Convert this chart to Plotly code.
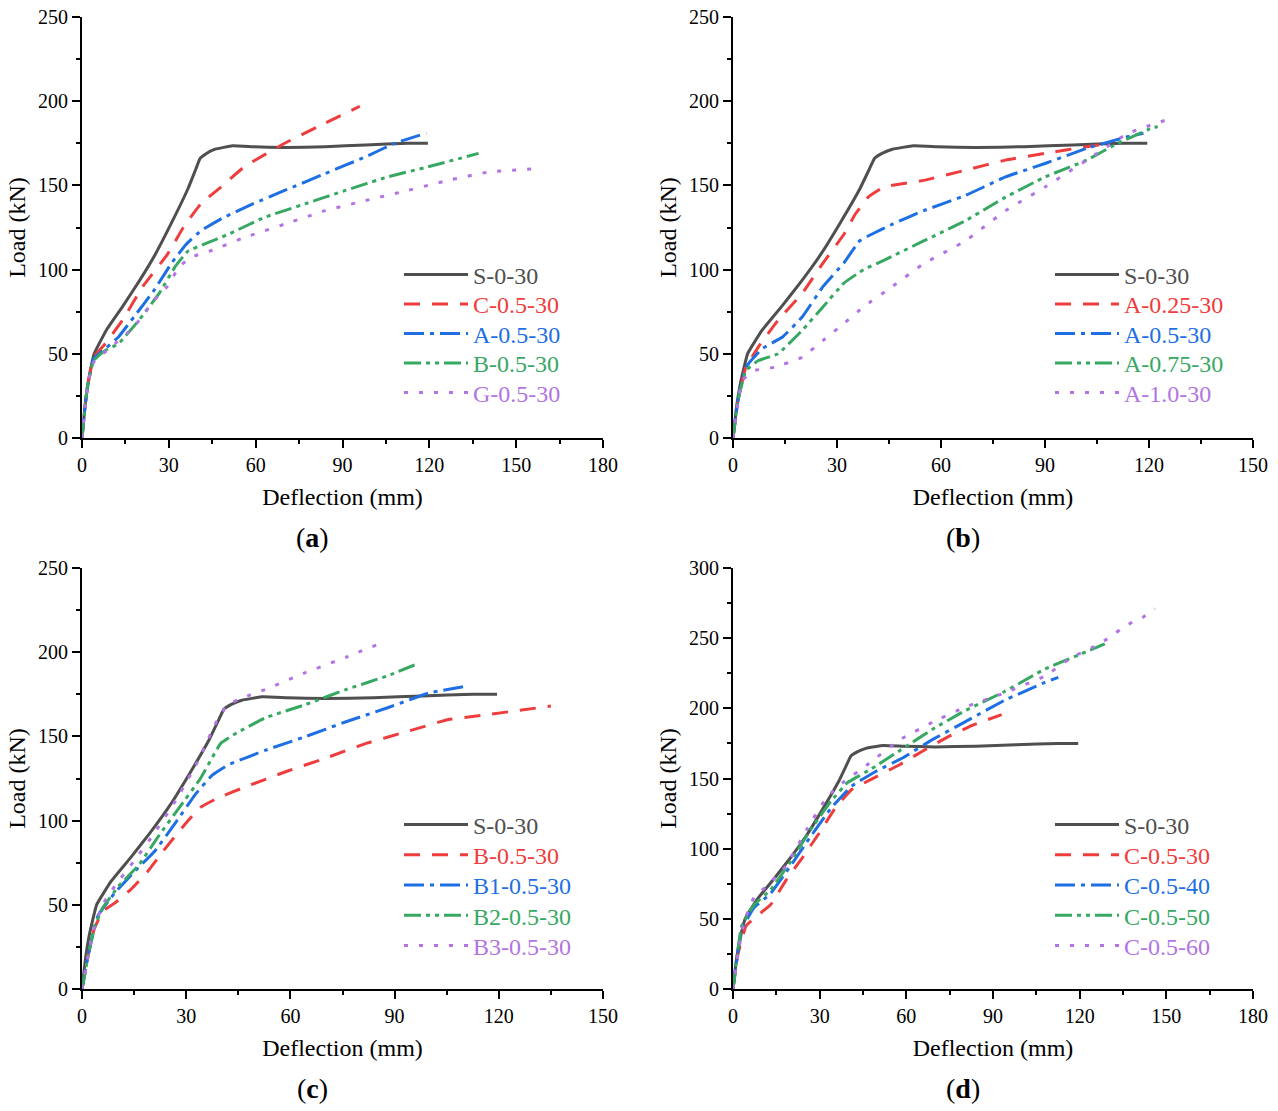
import plotly.graph_objects as go

# ---------------- data ----------------
S_x = [0, 1, 2.1, 4.2, 8.4, 14, 19.7, 25.3, 31, 36.6, 39.4, 40.8, 43, 46, 52, 59, 70, 84, 98, 112.5, 119.5]
S_y = [0, 18, 32, 50, 64, 78, 93, 109, 128, 148, 160, 166, 169, 171.5, 173.5, 173, 172.5, 173, 174, 175, 175]

# panel (a)
a_C_x = [0, 1, 2, 4, 8, 14, 21, 29.5, 35, 41, 48, 56, 70, 84, 96]
a_C_y = [0, 18, 32, 48, 56, 70, 90, 109, 125, 139, 149, 161, 175, 187, 197]
a_A_x = [0, 1, 2, 4, 8, 12.6, 18, 25, 31, 36, 41, 49, 59, 70, 84, 98, 108, 119]
a_A_y = [0, 18, 32, 47, 53, 60, 72, 88, 104, 115, 123, 131, 139, 147, 157, 167, 175, 181]
a_B_x = [0, 1, 2, 4, 8, 12.6, 19.7, 26.7, 32.3, 36.6, 42, 50.6, 63, 77, 91, 105.5, 119.5, 137]
a_B_y = [0, 18, 32, 46, 52, 56, 70, 86, 102, 111, 115, 121, 131, 139, 147, 155, 161, 169]
a_G_x = [0, 1, 2, 4, 10, 18, 25, 29.5, 33.7, 38, 45, 56, 70, 84, 98, 112.5, 126.5, 140.6, 158]
a_G_y = [0, 18, 32, 45, 54, 66, 82, 90, 102, 107.5, 111.5, 119, 127, 135, 141, 147, 153, 158, 160]

# panel (b)
b_1_x = [0, 1.4, 3.7, 7.3, 13, 20, 26, 32, 35.3, 39, 43.5, 55, 67, 78.6, 90, 102, 109]
b_1_y = [0, 22, 42, 54, 70, 86, 104, 121, 133, 143, 149, 153, 159, 165, 169, 173, 175]
b_2_x = [0, 1.4, 3.7, 8.4, 14.3, 20, 26, 32, 36.5, 40, 46, 55, 67, 78.6, 90, 102, 114, 118.4]
b_2_y = [0, 22, 42, 53, 60, 72, 90, 104, 117, 121, 127, 135, 144, 155, 163, 172, 179, 181]
b_3_x = [0, 1.4, 3.7, 7.3, 13, 20, 26, 32, 37.7, 43.5, 55, 67, 78.6, 90, 102, 111, 119.6, 122.5]
b_3_y = [0, 22, 40, 46, 50, 64, 78, 92, 100, 105.5, 117, 129, 143, 155, 165, 175, 183, 185]
b_4_x = [0, 1.4, 2.6, 6, 12, 20, 26, 32, 37.7, 46, 55, 67, 78.6, 90, 102, 114, 126.6]
b_4_y = [0, 20, 34, 40, 42, 48, 58, 68, 78, 90, 103.5, 117, 135, 149, 165, 181, 190]

# panel (c)
c_1_x = [0, 1.8, 3.5, 5.9, 9.4, 14, 18.8, 23.4, 29.3, 34, 38.7, 47, 58.6, 70, 82, 93.8, 105.5, 117, 135]
c_1_y = [0, 20.6, 35.5, 46, 51, 59, 69.5, 82, 97, 107.7, 113, 120, 129, 137, 146, 153, 160, 163, 168]
c_2_x = [0, 1.8, 3.5, 4.7, 9.4, 15, 21, 27, 32.8, 37.5, 42, 52.7, 64.5, 76, 88, 99.6, 111]
c_2_y = [0, 20, 36, 44, 57, 69.5, 82, 99, 116, 127, 133, 141.7, 150, 158.7, 167, 175.6, 180]
c_3_x = [0, 1.8, 3.5, 5.9, 10.5, 16.4, 22, 28, 34, 40, 44.5, 52.7, 64.5, 76, 88, 96]
c_3_y = [0, 20, 36, 48, 61, 73.7, 90.7, 107.7, 124.7, 146, 152, 161, 169, 177.8, 186, 192.6]
c_4_x = [0, 1.8, 3.5, 5.9, 9.4, 15, 21, 27, 32.8, 38.7, 42, 47, 52.7, 64.5, 76, 85.6]
c_4_y = [0, 20, 36, 50, 61, 76, 93, 112, 133, 158.7, 169, 173.5, 177.8, 188, 197, 205]

# panel (d)
d_1_x = [0, 1.7, 4.5, 8.7, 13, 18.5, 24, 29.8, 35.4, 41, 48, 57.8, 66, 74.7, 83, 93]
d_1_y = [0, 24.7, 45, 52.8, 60, 78, 93.5, 111, 129, 142, 149.6, 160, 170, 180, 188, 195.5]
d_2_x = [0, 1.5, 3, 7.3, 13, 20, 27, 34, 41, 49.4, 59, 69, 80, 94, 108, 112.6]
d_2_y = [0, 24, 42.6, 58, 68, 88, 109, 129, 144.5, 155, 165, 177.7, 190, 205.7, 218.5, 222]
d_3_x = [0, 1.5, 3, 7.3, 13, 20, 27, 34, 39.6, 48, 57.8, 69, 80, 94, 108, 119.6, 128.7]
d_3_y = [0, 25, 45, 60, 70.6, 91, 114, 134, 147, 157, 170, 185, 198, 212, 228, 238, 246]
d_4_x = [0, 1.7, 3.8, 7.3, 11.5, 18.5, 25.6, 32.6, 38, 46.6, 57.8, 69, 80, 94, 108, 117, 125, 130, 136, 142, 146]
d_4_y = [0, 24.7, 47.7, 65.5, 73, 88, 114, 137, 147, 160, 177.7, 190, 200.6, 211, 223, 236, 244, 250, 259, 265, 271]

names_a = ["S-0-30", "C-0.5-30", "A-0.5-30", "B-0.5-30", "G-0.5-30"]
names_b = ["S-0-30", "A-0.25-30", "A-0.5-30", "A-0.75-30", "A-1.0-30"]
names_c = ["S-0-30", "B-0.5-30", "B1-0.5-30", "B2-0.5-30", "B3-0.5-30"]
names_d = ["S-0-30", "C-0.5-30", "C-0.5-40", "C-0.5-50", "C-0.5-60"]
panel_labels = ["a", "b", "c", "d"]

# ---------------- styles ----------------
colors = ["#4f4f4f", "#ef3d3d", "#1d6fe3", "#37a862", "#b274e4"]
dashes = ["solid", "16px,12px", "20px,6px,4px,6px", "17px,5px,4px,5px,4px,5px", "4px,11px"]
FONT = "Liberation Serif"

W, H = 1278, 1111
def px(v): return v / W
def py(v): return (H - v) / H

panels = [
    dict(series=[(S_x, S_y), (a_C_x, a_C_y), (a_A_x, a_A_y), (a_B_x, a_B_y), (a_G_x, a_G_y)],
         names=names_a, xr=180, yr=250, xd=(82, 603), yd=(438, 17), leg=(399, 275, 29.5)),
    dict(series=[(S_x, S_y), (b_1_x, b_1_y), (b_2_x, b_2_y), (b_3_x, b_3_y), (b_4_x, b_4_y)],
         names=names_b, xr=150, yr=250, xd=(733, 1253), yd=(438, 17), leg=(1050, 275, 29.5)),
    dict(series=[(S_x, S_y), (c_1_x, c_1_y), (c_2_x, c_2_y), (c_3_x, c_3_y), (c_4_x, c_4_y)],
         names=names_c, xr=150, yr=250, xd=(82, 603), yd=(989, 568), leg=(399, 825, 30.2)),
    dict(series=[(S_x, S_y), (d_1_x, d_1_y), (d_2_x, d_2_y), (d_3_x, d_3_y), (d_4_x, d_4_y)],
         names=names_d, xr=180, yr=300, xd=(733, 1253), yd=(989, 568), leg=(1050, 825, 30.2)),
]

fig = go.Figure()
layout = dict(width=W, height=H, margin=dict(l=0, r=0, t=0, b=0), showlegend=True,
              plot_bgcolor="white", paper_bgcolor="white",
              font=dict(family=FONT, color="black"), annotations=[])

legn = 0
for i, p in enumerate(panels):
    k = "" if i == 0 else str(i + 1)
    lx, ly0, lstep = p["leg"]
    for j, ((xs, ys), nm) in enumerate(zip(p["series"], p["names"])):
        legn += 1
        legname = "legend" if legn == 1 else f"legend{legn}"
        fig.add_trace(go.Scatter(
            x=xs, y=ys, mode="lines", showlegend=True,
            name=f"<span style='color:{colors[j]}'>{nm}</span>",
            line=dict(color=colors[j], width=3, dash=dashes[j], shape="spline", smoothing=0.3),
            xaxis="x" + k, yaxis="y" + k, legend=legname))
        layout[legname] = dict(x=px(lx), y=py(ly0 + j * lstep), xanchor="left", yanchor="middle",
                               bgcolor="rgba(0,0,0,0)", itemwidth=64, borderwidth=0, visible=True,
                               font=dict(family=FONT, size=24))
    axcommon = dict(showline=True, linecolor="black", linewidth=2, mirror=False, automargin=False,
                    showgrid=False, zeroline=False, ticks="outside", ticklen=8, tickwidth=2,
                    tickcolor="black", tickfont=dict(family=FONT, size=20, color="black"))
    layout["xaxis" + k] = dict(axcommon, range=[0, p["xr"]], dtick=30, tick0=0,
                               domain=[px(p["xd"][0]), px(p["xd"][1])], anchor="y" + k,
                               minor=dict(ticks="outside", ticklen=4, tickwidth=2, dtick=15, tickcolor="black"),
                               title=dict(text="Deflection (mm)", font=dict(family=FONT, size=24), standoff=13))
    layout["yaxis" + k] = dict(axcommon, range=[0, p["yr"]], dtick=50, tick0=0,
                               domain=[py(p["yd"][0]), py(p["yd"][1])], anchor="x" + k,
                               minor=dict(ticks="outside", ticklen=4, tickwidth=2, dtick=25, tickcolor="black"),
                               title=dict(text="Load (kN)", font=dict(family=FONT, size=24), standoff=6))
    cx = (p["xd"][0] + p["xd"][1]) / 2 - 30
    layout["annotations"].append(dict(
        text=f"(<b>{panel_labels[i]}</b>)", x=px(cx), y=py(p["yd"][0] + 99), xref="paper", yref="paper",
        showarrow=False, font=dict(family=FONT, size=28, color="black"), xanchor="center", yanchor="middle"))

fig.update_layout(**layout)
fig.write_html("out.html")
